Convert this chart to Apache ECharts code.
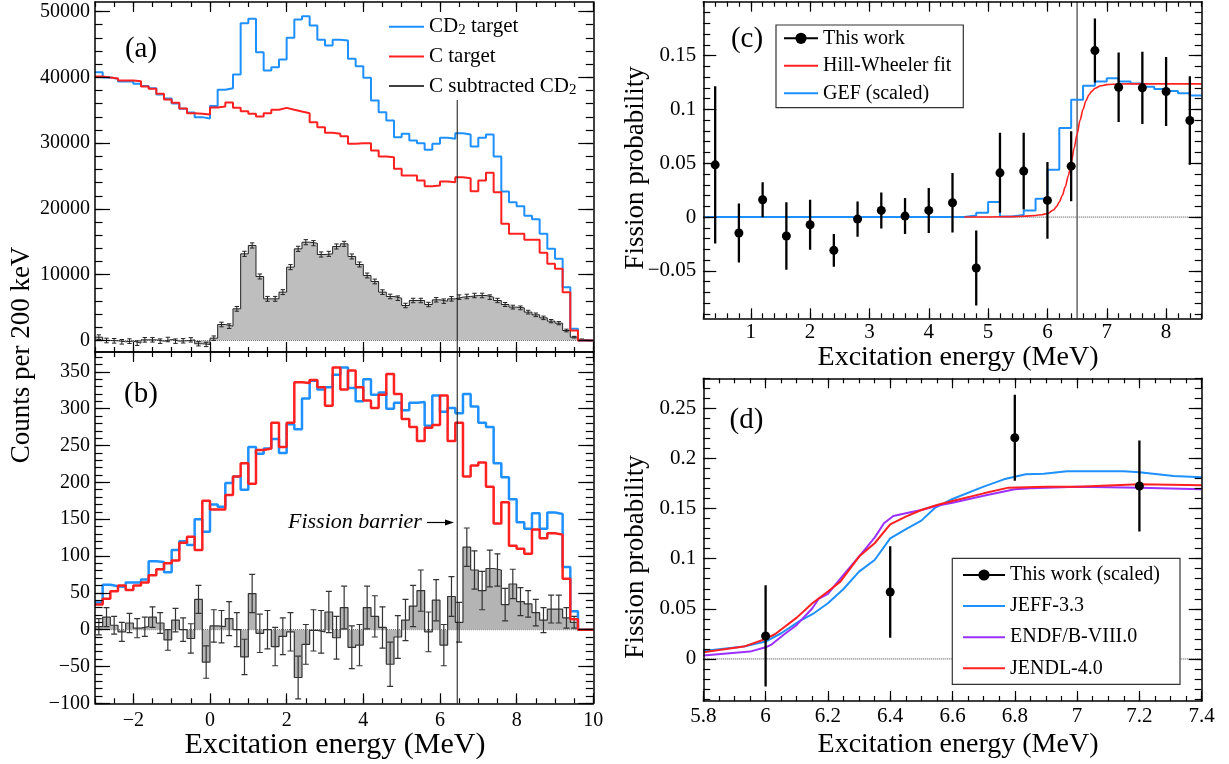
<!DOCTYPE html>
<html><head><meta charset="utf-8">
<script src="https://cdn.jsdelivr.net/npm/echarts@6/dist/echarts.min.js"></script>
<style>html,body{margin:0;padding:0;background:#fff}#c{width:1229px;height:764px}</style>
</head><body><div id="c"></div>
<script>
// ---------------- data ----------------
// 200 keV bins from -3 to 10 MeV (panels a, b)
const binStart = -3, binWidth = 0.2, binCount = 65;

// panel (a)
const cd2A = [40780,39970,39770,39360,39410,39010,38700,38350,37390,36780,36020,35210,34650,33950,33750,
  35660,38100,38350,40430,48230,48890,43820,41030,41540,42710,46000,48790,49290,47870,45700,44830,45700,45590,42810,41690,39920,
  36480,34700,33440,30900,31410,30400,29990,28980,29890,30800,30650,31510,31310,29480,30800,31310,27960,22650,21020,20420,18950,18440,16210,13930,12410,8110,1770,0,0];
const cA = [40120,39970,39820,39510,39510,39410,38600,38250,37490,36630,
  36120,35260,34550,34450,34350,35410,35560,36170,35360,34850,
  34450,34040,34550,35060,35360,35060,34800,34550,33180,32420,
  31560,31410,31050,29890,29990,29990,28880,27960,27860,26090,
  25080,25080,24320,23460,23560,24160,24060,24820,24670,22700,
  24320,25480,22540,17730,16210,16210,15300,15300,13320,11650,
  10890,7350,1520,0,0];
const subA = [500,0,-50,-200,-100,-400,100,100,-100,150,
  -100,-50,100,-500,-600,350,2430,2180,4810,13170,
  14440,9730,6330,6330,7350,11150,13930,14940,14790,13070,
  13170,14290,14690,12770,11550,9880,8970,7350,6690,6430,
  5320,6080,6080,5470,6180,5980,6330,6590,6690,6840,
  6840,6590,6080,5470,5070,4960,4310,3900,3440,2940,
  2630,1520,510,150,0];
const subAErr = [360,350,350,350,350,350,350,345,345,340,340,335,335,330,330,
  340,350,350,360,
  390,390,380,370,370,375,385,390,390,390,385,385,385,385,380,375,370,
  360,355,350,345,340,340,340,335,340,340,345,345,345,340,345,345,330,
  300,290,285,280,275,265,250,240,
  200,120,80,0];

// panel (b)
const cd2B = [37,61,59,58,64,64,68,93,92,78,
  108,120,115,150,133,170,167,199,208,190,
  248,239,246,259,240,279,272,314,338,326,
  329,346,356,328,310,340,319,322,300,308,
  298,308,309,277,318,296,301,294,320,303,
  281,275,226,207,177,146,137,158,137,159,
  157,85,25,0,0];
const cB = [34,42,52,60,54,60,64,74,82,90,
  94,118,126,108,175,163,163,183,208,226,
  198,244,246,281,248,281,336,335,339,329,
  304,356,326,352,329,311,301,319,347,320,
  286,275,256,274,278,318,256,281,208,223,
  227,194,144,173,114,110,103,136,124,131,
  129,69,14,0,0];
const subB = [4,17,6,-3,9,2,4,17,9,-14,
  13,0,-12,41,-44,5,4,15,0,-37,
  49,-5,0,-23,-9,-3,-65,-20,-1,-3,
  24,-11,30,-24,-21,30,18,3,-47,-10,
  13,32,53,-3,40,-21,45,10,112,81,
  53,83,81,34,62,38,35,23,13,28,
  28,16,10,0,0];
const subBErr = [11,13,12,13,13,13,13,14,14,14,
  16,16,20,19,22,22,22,23,23,24,
  26,26,26,26,25,26,29,27,28,29,
  28,29,29,29,28,29,28,28,30,29,
  28,28,28,27,28,28,27,27,26,26,
  26,25,22,22,20,19,18,18,17,19,
  19,14,8,0,0];
const barrierAB = 6.45;

// panel (c)
const cE = [0.4,0.8,1.2,1.6,2.0,2.4,2.8,3.2,3.6,4.0,4.4,4.8,5.2,5.6,6.0,6.4,6.8,7.2,7.6,8.0,8.4];
const cP = [0.0485,-0.0148,0.0161,-0.0176,-0.0071,-0.0309,-0.0019,0.0062,0.0009,0.0062,0.0133,-0.0473,0.0411,0.0427,0.0155,0.0473,0.1546,0.1206,0.12,0.1166,0.0897];
const cErr = [0.073,0.0274,0.0162,0.0314,0.0232,0.0152,0.0164,0.0167,0.0167,0.0209,0.0277,0.0348,0.0371,0.0357,0.0356,0.0325,0.0297,0.0322,0.0336,0.032,0.041];
const hwE = [4.6,5.0,5.4,5.6,5.8,5.9,6.0,6.1,6.15,6.2,6.25,6.3,6.35,6.4,6.45,6.5,6.55,6.6,6.65,6.7,6.75,6.8,6.9,7.0,7.2,7.6,8.6];
const hwP = [0,0.0001,0.0004,0.0008,0.0015,0.0022,0.0033,0.0065,0.0095,0.014,0.020,0.028,0.038,0.050,0.064,0.077,0.090,0.100,0.108,0.1135,0.117,0.1195,0.122,0.123,0.1236,0.1237,0.1237];
const gefEdges = [0.2,4.6,4.8,5.0,5.2,5.4,5.6,5.8,6.0,6.2,6.4,6.6,6.8,7.0,7.2,7.4,7.6,7.8,8.0,8.2,8.4,8.6];
const gefP = [0,0.0015,0.004,0.0139,0.0006,0.002,0.0062,0.017,0.0439,0.0826,0.109,0.122,0.126,0.129,0.126,0.124,0.121,0.119,0.117,0.115,0.113];
const barrierC = 6.5;

// panel (d)
const dE = [6.0,6.4,6.8,7.2];
const dP = [0.0229,0.0668,0.2207,0.1725];
const dErr = [0.0505,0.0457,0.043,0.0454];
const jeffE = [5.8,5.93,6.0,6.05,6.11,6.155,6.2,6.25,6.3,6.35,6.4,6.455,6.5,6.545,6.6,6.7,6.765,6.8,6.835,6.893,6.968,7.15,7.2,7.31,7.4];
const jeffP = [0.008,0.0123,0.0173,0.0256,0.0379,0.0455,0.0555,0.0698,0.0871,0.0987,0.1203,0.1303,0.138,0.151,0.1596,0.1719,0.1792,0.1818,0.1842,0.1848,0.1872,0.1872,0.1862,0.1825,0.1812];
const endfE = [5.8,5.95,6.0,6.02,6.06,6.1,6.15,6.17,6.2,6.25,6.3,6.35,6.38,6.41,6.45,6.5,6.55,6.6,6.7,6.8,6.85,7.0,7.2,7.4];
const endfP = [0.0033,0.0073,0.0116,0.0146,0.0246,0.0339,0.0505,0.0598,0.0648,0.0838,0.1021,0.121,0.1353,0.1426,0.1453,0.1486,0.1529,0.1559,0.1629,0.1692,0.1702,0.1719,0.1709,0.1692];
const jendlE = [5.8,5.93,6.0,6.03,6.1,6.15,6.2,6.24,6.3,6.35,6.4,6.45,6.5,6.55,6.6,6.7,6.78,6.9,7.0,7.2,7.4];
const jendlP = [0.0066,0.0123,0.0199,0.0246,0.0412,0.0555,0.0672,0.0771,0.1021,0.1154,0.1343,0.142,0.1486,0.1536,0.1576,0.1652,0.1709,0.1719,0.1719,0.1742,0.1732];

// tick labels
const abXTicks = [-2,0,2,4,6,8,10];
const aYTicks = [0,10000,20000,30000,40000,50000];
const bYTicks = [-100,-50,0,50,100,150,200,250,300,350];
const cXTicks = [1,2,3,4,5,6,7,8];
const cYTicks = [-0.05,0,0.05,0.1,0.15];
const dXTicks = [5.8,6,6.2,6.4,6.6,6.8,7,7.2,7.4];
const dYTicks = [0,0.05,0.1,0.15,0.2,0.25];

// ---------------- helpers ----------------
const FONT = 'Liberation Serif';
const BLUE = '#1e90ff', RED = '#ff2020', PURPLE = '#9b30ff';
const fmt = v => String(v).replace('-', '\u2212');
function seq(a, b, s) { const n = Math.round((b - a) / s); return Array.from({length: n + 1}, (_, i) => +(a + i * s).toFixed(6)); }
const edges = Array.from({length: binCount + 1}, (_, k) => +(binStart + k * binWidth).toFixed(3));
function stepData(ed, vals) { const d = vals.map((v, i) => [ed[i], v]); d.push([ed[vals.length], vals[vals.length - 1]]); return d; }
function pairs(xs, ys) { return xs.map((x, i) => [x, ys[i]]); }
function errData(xs, ys, es) { return xs.map((x, i) => [x, ys[i], es[i]]); }
const centers = edges.slice(0, binCount).map(e => +(e + binWidth / 2).toFixed(3));

function mkAxis(gi, pos, r, ticks, len, line, label) {
  return {
    type: 'value', gridIndex: gi, position: pos, min: r[0], max: r[1],
    axisLine: {show: line, onZero: false, lineStyle: {color: '#000', width: 1.5}},
    axisTick: {show: true, inside: true, length: len, customValues: ticks, lineStyle: {color: '#000', width: 1.2}},
    axisLabel: label ? Object.assign({show: true, customValues: ticks, color: '#000', fontFamily: FONT, formatter: fmt}, label) : {show: false},
    splitLine: {show: false}, minorTick: {show: false}, axisPointer: {show: false}, z: 6
  };
}

const grids = [
  {left: 95, top: 2, width: 498.3, height: 350},
  {left: 95, top: 352, width: 498.3, height: 351.3},
  {left: 703.3, top: 1.7, width: 498.4, height: 316.6},
  {left: 703.3, top: 378.3, width: 498.4, height: 322.7}
].map(g => Object.assign({containLabel: false, outerBoundsMode: 'none'}, g));

const P = [
  {xr: [-3, 10], yr: [-1750, 51450], xMaj: abXTicks, xMin: seq(-3, 10, 0.5), yMaj: aYTicks, yMin: seq(0, 50000, 2000), xL: null, yL: {fontSize: 20, margin: 5}, yLen: [15, 7.5]},
  {xr: [-3, 10], yr: [-100, 377], xMaj: abXTicks, xMin: seq(-3, 10, 0.5), yMaj: bYTicks, yMin: seq(-100, 370, 10), xL: {fontSize: 20, margin: 7}, yL: {fontSize: 20, margin: 5}, yLen: [15, 7.5]},
  {xr: [0.2, 8.6], yr: [-0.094, 0.2], xMaj: cXTicks, xMin: seq(0.2, 8.6, 0.2), yMaj: cYTicks, yMin: seq(-0.09, 0.19, 0.01), xL: {fontSize: 21, margin: 4}, yL: {fontSize: 21, margin: 7}, yLen: [13, 7]},
  {xr: [5.8, 7.4], yr: [-0.042, 0.28], xMaj: dXTicks, xMin: seq(5.8, 7.4, 0.05), yMaj: dYTicks, yMin: seq(-0.04, 0.28, 0.01), xL: {fontSize: 21, margin: 5}, yL: {fontSize: 21, margin: 7}, yLen: [13, 7]}
];
const xAxes = [], yAxes = [];
P.forEach((p, gi) => {
  xAxes.push(mkAxis(gi, 'bottom', p.xr, p.xMaj, 10, true, p.xL), mkAxis(gi, 'bottom', p.xr, p.xMin, 5, false, null),
             mkAxis(gi, 'top', p.xr, p.xMaj, 10, true, null), mkAxis(gi, 'top', p.xr, p.xMin, 5, false, null));
  yAxes.push(mkAxis(gi, 'left', p.yr, p.yMaj, p.yLen[0], true, p.yL), mkAxis(gi, 'left', p.yr, p.yMin, p.yLen[1], false, null),
             mkAxis(gi, 'right', p.yr, p.yMaj, p.yLen[0], true, null), mkAxis(gi, 'right', p.yr, p.yMin, p.yLen[1], false, null));
});

function line(gi, name, data, color, width, extra) {
  return Object.assign({type: 'line', name, xAxisIndex: 4 * gi, yAxisIndex: 4 * gi, data, symbol: 'none', showSymbol: false,
    lineStyle: {color, width}, itemStyle: {color}, silent: true, animation: false, emphasis: {disabled: true}}, extra || {});
}
function errs(gi, name, data, color, width, cap, z) {
  return {type: 'custom', name, xAxisIndex: 4 * gi, yAxisIndex: 4 * gi, silent: true, animation: false, clip: true, z,
    dimensions: ['x', 'y', 'e'], encode: {x: 0, y: 1}, data,
    renderItem(params, api) {
      const x = api.value(0), y = api.value(1), e = api.value(2);
      if (!(e > 0)) return null;
      const p1 = api.coord([x, y + e]), p2 = api.coord([x, y - e]);
      const st = {stroke: color, lineWidth: width};
      const ch = [{type: 'line', shape: {x1: p1[0], y1: p1[1], x2: p2[0], y2: p2[1]}, style: st}];
      if (cap > 0) {
        ch.push({type: 'line', shape: {x1: p1[0] - cap, y1: p1[1], x2: p1[0] + cap, y2: p1[1]}, style: st});
        ch.push({type: 'line', shape: {x1: p2[0] - cap, y1: p2[1], x2: p2[0] + cap, y2: p2[1]}, style: st});
      }
      return {type: 'group', children: ch};
    }};
}
const dotted = (gi, r) => line(gi, 'zero' + gi, [[r[0], 0], [r[1], 0]], '#444', 1, {lineStyle: {color: '#444', width: 1, type: 'dotted'}, z: 1});

const series = [
  // (a)
  dotted(0, P[0].xr),
  line(0, 'C subtracted CD2', stepData(edges, subA), '#222', 1, {step: 'end', areaStyle: {color: '#bebebe', opacity: 1}, z: 2}),
  errs(0, 'errA', errData(centers, subA, subAErr), '#222', 1, 2.2, 3),
  line(0, 'CD2 target', stepData(edges, cd2A), BLUE, 2, {step: 'end', z: 4}),
  line(0, 'C target', stepData(edges, cA), RED, 2, {step: 'end', z: 5}),
  line(0, 'barA', [[barrierAB, -1750], [barrierAB, 36550]], '#111', 1, {z: 7}),
  // (b)
  dotted(1, P[1].xr),
  line(1, 'b-sub', stepData(edges, subB), '#333', 1.2, {step: 'end', areaStyle: {color: '#b4b4b4', opacity: 1}, z: 2}),
  errs(1, 'errB', errData(centers, subB, subBErr), '#333', 1.2, 3, 3),
  line(1, 'b-cd2', stepData(edges, cd2B), BLUE, 2.5, {step: 'end', z: 4}),
  line(1, 'b-c', stepData(edges, cB), RED, 2.5, {step: 'end', z: 5}),
  line(1, 'barB', [[barrierAB, -100], [barrierAB, 377]], '#111', 1, {z: 7}),
  // (c)
  dotted(2, P[2].xr),
  line(2, 'barC', [[barrierC, -0.094], [barrierC, 0.2]], '#666', 1.5, {z: 2}),
  line(2, 'GEF (scaled)', stepData(gefEdges, gefP), BLUE, 2, {step: 'end', z: 3}),
  line(2, 'Hill-Wheeler fit', pairs(hwE, hwP), RED, 1.6, {smooth: 0.3, smoothMonotone: 'x', z: 4}),
  errs(2, 'errC', errData(cE, cP, cErr), '#000', 2.3, 0, 5),
  line(2, 'This work', pairs(cE, cP), '#000', 2, {symbol: 'circle', showSymbol: true, symbolSize: 9, lineStyle: {color: '#000', width: 2, opacity: 0}, z: 6}),
  // (d)
  dotted(3, P[3].xr),
  line(3, 'JEFF-3.3', pairs(jeffE, jeffP), BLUE, 2, {z: 3}),
  line(3, 'ENDF/B-VIII.0', pairs(endfE, endfP), PURPLE, 2, {z: 4}),
  line(3, 'JENDL-4.0', pairs(jendlE, jendlP), RED, 2, {z: 5}),
  errs(3, 'errD', errData(dE, dP, dErr), '#000', 2.3, 0, 6),
  line(3, 'This work (scaled)', pairs(dE, dP), '#000', 2, {symbol: 'circle', showSymbol: true, symbolSize: 9, lineStyle: {color: '#000', width: 2, opacity: 0}, z: 7})
];

const legTxt = (size) => ({fontFamily: FONT, fontSize: size, lineHeight: 22, color: '#000',
  rich: {s: {fontFamily: FONT, fontSize: 15, lineHeight: 12, verticalAlign: 'bottom', color: '#000'}}});
const lineOnly = (name, extra) => Object.assign({name, itemStyle: {opacity: 0}}, extra || {});
const legends = [
  {left: 388, top: 15.7, orient: 'vertical', padding: 0, itemGap: 7.7, itemWidth: 35, itemHeight: 14, selectedMode: false, z: 5,
   data: [lineOnly('CD2 target'), lineOnly('C target'), lineOnly('C subtracted CD2', {lineStyle: {color: '#000', width: 1.5}})],
   formatter: n => n.replace('CD2', 'CD{s|2}'), textStyle: legTxt(21)},
  {left: 783, top: 27.3, orient: 'vertical', padding: 0, itemGap: 5.5, itemWidth: 34, itemHeight: 14, selectedMode: false, z: 5,
   data: [{name: 'This work', lineStyle: {color: '#000', width: 2, opacity: 1}}, lineOnly('Hill-Wheeler fit'), lineOnly('GEF (scaled)')], textStyle: legTxt(20)},
  {left: 962, top: 564, orient: 'vertical', padding: 0, itemGap: 9.1, itemWidth: 42, itemHeight: 14, selectedMode: false, z: 5,
   data: [{name: 'This work (scaled)', lineStyle: {color: '#000', width: 2, opacity: 1}}, lineOnly('JEFF-3.3'), lineOnly('ENDF/B-VIII.0'), lineOnly('JENDL-4.0')], textStyle: legTxt(20)}
];

const T = (txt, x, y, size, extra) => Object.assign({type: 'text', x, y, z: 10, silent: true,
  style: {text: txt, fontFamily: FONT, fontSize: size, fill: '#000', align: 'center', verticalAlign: 'middle'}}, extra || {});
const graphics = [
  {type: 'rect', shape: {x: 776, y: 25, width: 187.3, height: 82.7}, style: {fill: '#fff', stroke: '#333', lineWidth: 1.2}, z: 3, silent: true},
  {type: 'rect', shape: {x: 952.3, y: 558.3, width: 227.7, height: 126}, style: {fill: '#fff', stroke: '#333', lineWidth: 1.2}, z: 3, silent: true},
  T('(a)', 141, 49, 29), T('(b)', 141, 394, 29), T('(c)', 747, 39, 29), T('(d)', 746.5, 420.5, 29),
  T('Counts per 200 keV', 22, 355, 27, {rotation: Math.PI / 2}),
  T('Fission probability', 636, 168, 27, {rotation: Math.PI / 2}),
  T('Fission probability', 636, 557, 27, {rotation: Math.PI / 2}),
  T('Excitation energy (MeV)', 335, 745, 30),
  T('Excitation energy (MeV)', 958, 358, 28),
  T('Excitation energy (MeV)', 958, 745, 28),
  {type: 'text', x: 288, y: 522, z: 10, silent: true, style: {text: 'Fission barrier', fontFamily: FONT, fontSize: 22, fontStyle: 'italic', fill: '#000', align: 'left', verticalAlign: 'middle'}},
  {type: 'line', shape: {x1: 427, y1: 522.5, x2: 447, y2: 522.5}, style: {stroke: '#000', lineWidth: 1.2}, z: 10, silent: true},
  {type: 'polygon', shape: {points: [[445, 519.5], [454, 522.5], [445, 525.5]]}, style: {fill: '#000'}, z: 10, silent: true}
];

const chart = echarts.init(document.getElementById('c'), null, {renderer: 'canvas'});
chart.setOption({
  animation: false,
  backgroundColor: '#fff',
  textStyle: {fontFamily: FONT},
  grid: grids, xAxis: xAxes, yAxis: yAxes,
  legend: legends, series,
  graphic: {elements: graphics}
});
</script></body></html>
